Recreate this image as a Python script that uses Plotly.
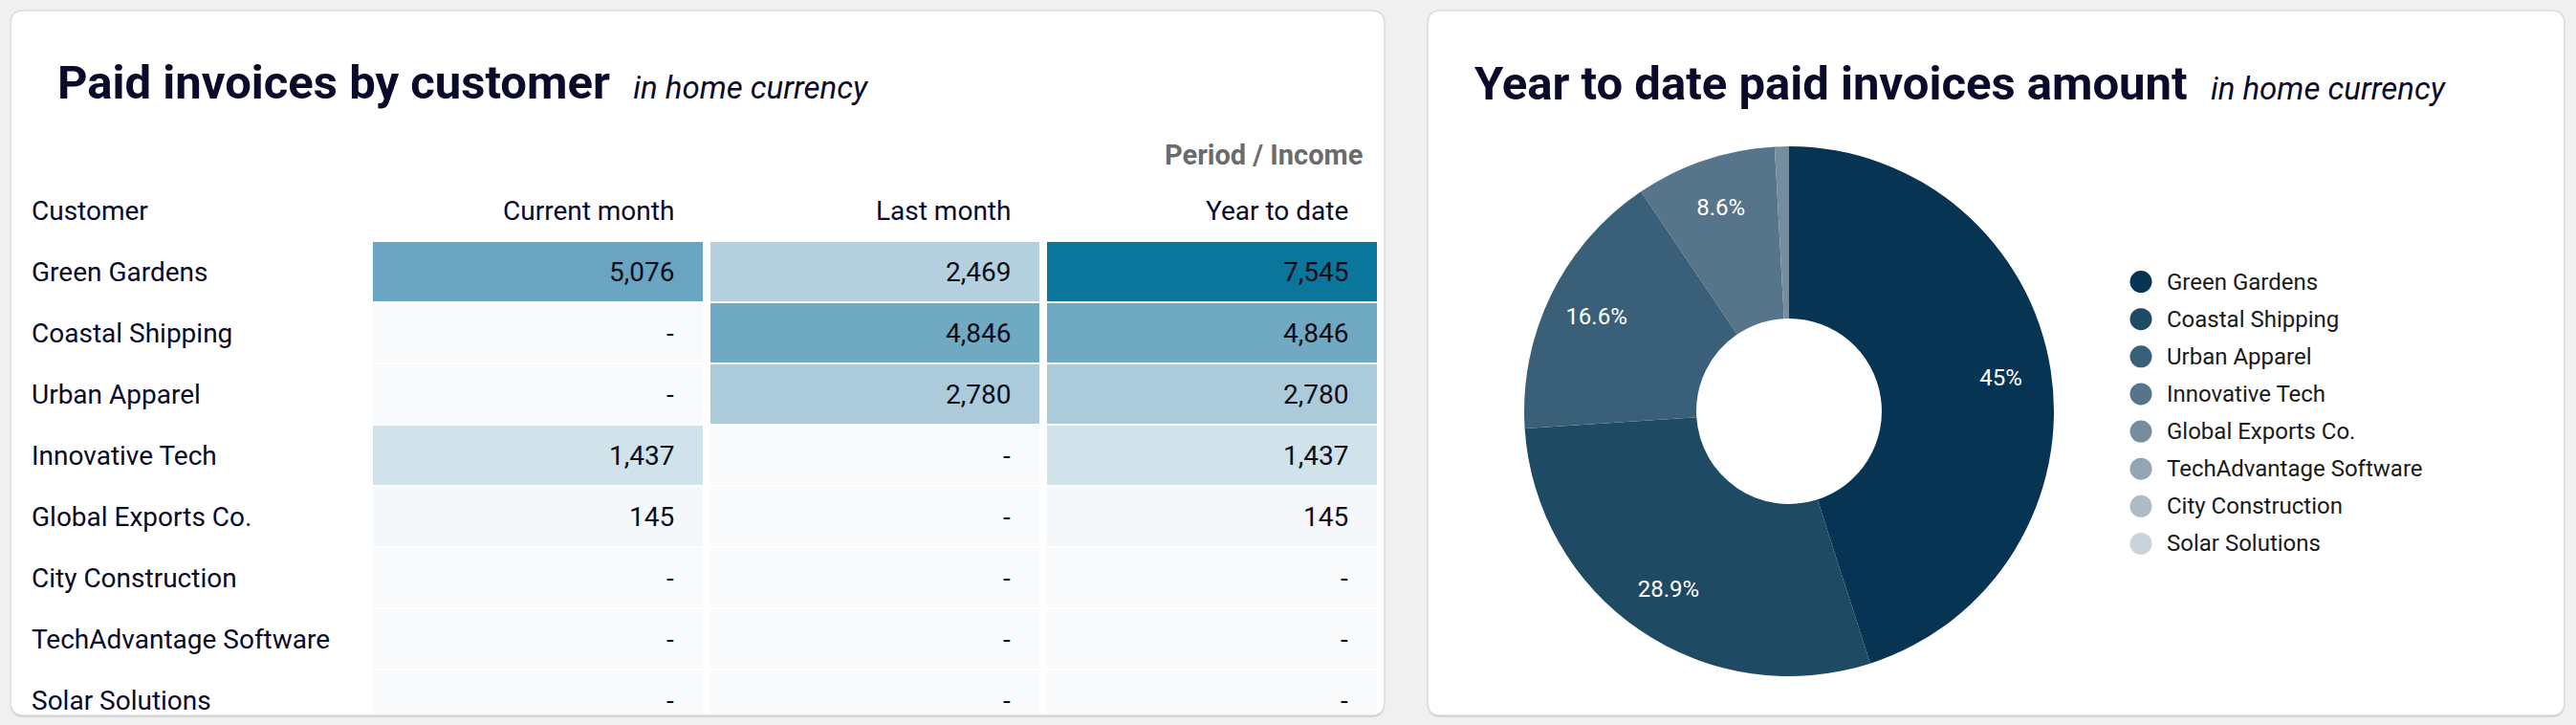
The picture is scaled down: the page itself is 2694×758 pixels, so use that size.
import plotly.graph_objects as go

# data
customers = ["Green Gardens", "Coastal Shipping", "Urban Apparel", "Innovative Tech",
             "Global Exports Co.", "City Construction", "TechAdvantage Software", "Solar Solutions"]
periods = ["Current month", "Last month", "Year to date"]
current_month = [5076, 0, 0, 1437, 145, 0, 0, 0]
last_month = [2469, 4846, 2780, 0, 0, 0, 0, 0]
year_to_date = [7545, 4846, 2780, 1437, 145, 0, 0, 0]

pie_labels = ["Green Gardens", "Coastal Shipping", "Urban Apparel", "Innovative Tech",
              "Global Exports Co.", "TechAdvantage Software", "City Construction", "Solar Solutions"]
pie_values = [7545, 4846, 2780, 1437, 145, 0, 0, 0]
pie_colors = ["#073452", "#1f4a64", "#3a5f78", "#56758a", "#758d9f", "#92a5b2", "#aebcc6", "#c9d3da"]

W, H = 2694, 758
NAVY = "#0a0a2a"
FONT = "Roboto"


def px(x):
    return x / W


def py(y):
    return 1 - y / H


def card(x0, y0, x1, y1, r=14):
    pts = (f"M {px(x0 + r)},{py(y0)} L {px(x1 - r)},{py(y0)} Q {px(x1)},{py(y0)} {px(x1)},{py(y0 + r)} "
           f"L {px(x1)},{py(y1 - r)} Q {px(x1)},{py(y1)} {px(x1 - r)},{py(y1)} "
           f"L {px(x0 + r)},{py(y1)} Q {px(x0)},{py(y1)} {px(x0)},{py(y1 - r)} "
           f"L {px(x0)},{py(y0 + r)} Q {px(x0)},{py(y0)} {px(x0 + r)},{py(y0)} Z")
    return pts


fig = go.Figure()

# table as heatmap
z = [[current_month[i], last_month[i], year_to_date[i]] for i in range(len(customers))]
fig.add_trace(go.Heatmap(
    z=z, x=list(range(len(periods))), y=list(range(len(customers))),
    colorscale=[[0, "#f8fafc"], [0.19, "#d0e2ea"], [0.33, "#b3d0de"], [0.67, "#6aa5c0"], [1, "#0b769c"]],
    zmin=0, zmax=max(year_to_date), xgap=8, ygap=2, showscale=False, hoverinfo="skip",
))

annotations = []
for i, name in enumerate(customers):
    annotations.append(dict(x=px(31), y=i, xref="paper", yref="y", text=name, showarrow=False,
                            xanchor="left", yanchor="middle", font=dict(size=28, color=NAVY)))
    for j, v in enumerate(z[i]):
        annotations.append(dict(x=j + 0.5, y=i, xref="x", yref="y", text=f"{v:,}" if v else "-",
                                showarrow=False, xanchor="right", yanchor="middle", xshift=-32,
                                font=dict(size=28, color="#0d0d1a")))
for j, p in enumerate(periods):
    annotations.append(dict(x=j + 0.5, y=py(220), xref="x", yref="paper", text=p, showarrow=False,
                            xanchor="right", yanchor="middle", xshift=-32, font=dict(size=28, color=NAVY)))
annotations.append(dict(x=px(31), y=py(220), xref="paper", yref="paper", text="Customer", showarrow=False,
                        xanchor="left", yanchor="middle", font=dict(size=28, color=NAVY)))
annotations.append(dict(x=px(1427), y=py(162), xref="paper", yref="paper", text="<b>Period / Income</b>",
                        showarrow=False, xanchor="right", yanchor="middle", font=dict(size=29, color="#6b6b6b")))

# titles
annotations.append(dict(x=px(58), y=py(86), xref="paper", yref="paper", showarrow=False,
                        xanchor="left", yanchor="middle", font=dict(size=49, color=NAVY),
                        text="<b>Paid invoices by customer</b>  <i><span style='font-size:33px'>in home currency</span></i>"))
annotations.append(dict(x=px(1540), y=py(87), xref="paper", yref="paper", showarrow=False,
                        xanchor="left", yanchor="middle", font=dict(size=49, color=NAVY),
                        text="<b>Year to date paid invoices amount</b>  <i><span style='font-size:33px'>in home currency</span></i>"))

# donut
total = sum(pie_values)
pie_text = [f"{round(v / total * 100, 1):g}%" if v / total >= 0.05 else "" for v in pie_values]
pie_domain = dict(x=[px(1871 - 277), px(1871 + 277)], y=[py(430 + 277), py(430 - 277)])
fig.add_trace(go.Pie(
    labels=pie_labels, values=pie_values, textinfo="none", hole=0.35,
    sort=False, direction="clockwise", rotation=0, showlegend=False,
    marker=dict(colors=pie_colors, line=dict(color="white", width=0)),
    domain=pie_domain, hoverinfo="label+value+percent",
))
# percent labels sit on the outer part of the ring
fig.add_trace(go.Pie(
    labels=pie_labels, values=pie_values, text=pie_text, textinfo="text", hole=0.62,
    sort=False, direction="clockwise", rotation=0, showlegend=False,
    marker=dict(colors=["rgba(0,0,0,0)"] * len(pie_values), line=dict(width=0)),
    textposition="inside", insidetextorientation="horizontal",
    textfont=dict(size=24, color="white", family=FONT),
    domain=pie_domain, hoverinfo="skip",
))

# legend built from the pie categories
fig.add_trace(go.Scatter(
    x=[0] * len(pie_labels), y=list(range(len(pie_labels))), xaxis="x2", yaxis="y2",
    mode="markers", marker=dict(size=23, color=pie_colors, symbol="circle"), cliponaxis=False,
    hoverinfo="skip", showlegend=False,
))
for i, lab in enumerate(pie_labels):
    annotations.append(dict(x=0, y=i, xref="x2", yref="y2", text=lab, showarrow=False, xanchor="left",
                            yanchor="middle", xshift=25, font=dict(size=24, color="#1a1a1a")))

shapes = []
for x0, x1 in [(11, 1448), (1493, 2682)]:
    shapes.append(dict(type="path", path=card(x0, 13, x1, 750), xref="paper", yref="paper",
                       fillcolor="#d2d2d2", line=dict(width=0), layer="below"))
    shapes.append(dict(type="path", path=card(x0, 11, x1, 748), xref="paper", yref="paper",
                       fillcolor="white", line=dict(color="#dadada", width=1.5), layer="below"))

fig.update_layout(
    width=W, height=H, margin=dict(l=0, r=0, t=0, b=0),
    paper_bgcolor="#f0f0f0", plot_bgcolor="white",
    font=dict(family=FONT, color=NAVY),
    xaxis=dict(domain=[px(386), px(1444)], range=[-0.5, 2.5], visible=False, fixedrange=True),
    yaxis=dict(domain=[py(747), py(252)], range=[7.23, -0.5], visible=False, fixedrange=True),
    xaxis2=dict(domain=[px(2239), px(2640)], range=[0, 1], visible=False, anchor="y2"),
    yaxis2=dict(domain=[py(588), py(275)], range=[7.5, -0.5], visible=False, anchor="x2"),
    annotations=annotations, shapes=shapes,
)

fig.write_html("out.html", config={"displayModeBar": False},
               post_script="document.body.style.margin='0';document.body.style.background='#f0f0f0';")
